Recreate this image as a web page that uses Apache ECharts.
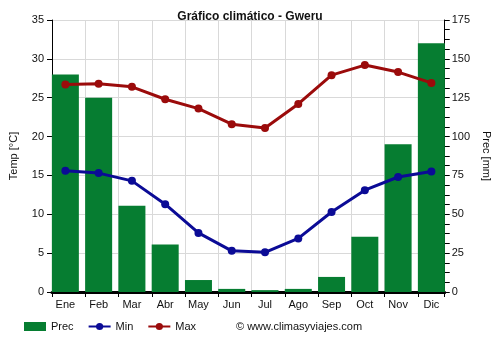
<!DOCTYPE html>
<html><head><meta charset="utf-8">
<script src="https://cdn.jsdelivr.net/npm/echarts@6/dist/echarts.min.js"></script>
<style>html,body{margin:0;padding:0;background:#fff}#c{width:500px;height:350px}</style>
</head><body><div id="c"></div>
<script>
const categories = ['Ene','Feb','Mar','Abr','May','Jun','Jul','Ago','Sep','Oct','Nov','Dic'];
const prec = [140, 125, 55.5, 30.5, 7.7, 2, 1.2, 2, 9.7, 35.5, 95, 160];
const tmin = [15.6, 15.3, 14.3, 11.3, 7.6, 5.3, 5.1, 6.9, 10.3, 13.1, 14.8, 15.5];
const tmax = [26.7, 26.8, 26.4, 24.8, 23.6, 21.6, 21.1, 24.2, 27.9, 29.2, 28.3, 26.9];
const title = 'Gráfico climático - Gweru';
const credit = '© www.climasyviajes.com';

const font = 'Liberation Sans, Arial, sans-serif';
const pad = 0.4018; // half a bar in category units
const n = categories.length;
const pairs = arr => arr.map((v, i) => [i, v]);

const chart = echarts.init(document.getElementById('c'), null, {renderer:'canvas'});
chart.setOption({
  animation: false,
  textStyle: {fontFamily: font},
  title: {text: title, left: 'center', top: 11, padding: 0,
    textStyle: {fontSize: 12, fontWeight: 'bold', color: '#111', fontFamily: font}},
  grid: {left: 49, right: 54, top: 20, bottom: 58, containLabel: false},
  legend: {
    left: 24, top: 321, padding: 0, itemGap: 14, itemWidth: 22, itemHeight: 9,
    textStyle: {fontSize: 11, color: '#111', fontFamily: font},
    data: [
      {name: 'Prec', icon: 'rect'},
      {name: 'Min'},
      {name: 'Max'}
    ]
  },
  graphic: [{type: 'text', left: 236, top: 321,
    style: {text: credit, fontSize: 11, fill: '#111', fontFamily: font}}],
  xAxis: [
    {type: 'value', min: -pad, max: n - 1 + pad, splitNumber: 12, minInterval: 1, maxInterval: 1,
     position: 'bottom',
     axisLine: {show: true, onZero: false, lineStyle: {color: '#000', width: 3}},
     axisTick: {show: false},
     axisLabel: {fontSize: 11, color: '#111', margin: 7, showMinLabel: true, showMaxLabel: true,
       formatter: v => (Math.abs(v - Math.round(v)) < 1e-6 && categories[Math.round(v)]) || ''},
     splitLine: {show: false}},
    {type: 'value', min: 0, max: n - 1 + 2 * pad, interval: 1, position: 'bottom',
     axisLine: {show: false, onZero: false},
     axisTick: {show: true, length: 5, lineStyle: {color: '#000'}},
     axisLabel: {show: false},
     splitLine: {show: true, lineStyle: {color: '#d9d9d9'}}}
  ],
  yAxis: [
    {type: 'value', min: 0, max: 35, interval: 5, position: 'left',
     name: 'Temp [°C]', nameLocation: 'middle', nameRotate: 90, nameGap: 33,
     nameTextStyle: {fontSize: 11, color: '#111'},
     axisLine: {show: true, onZero: false, lineStyle: {color: '#000'}},
     axisTick: {show: true, length: 5, lineStyle: {color: '#000'}},
     axisLabel: {fontSize: 11, color: '#111', margin: 8},
     splitLine: {show: true, lineStyle: {color: '#d9d9d9'}}},
    {type: 'value', min: 0, max: 175, interval: 25, position: 'right',
     name: 'Prec [mm]', nameLocation: 'middle', nameRotate: -90, nameGap: 36,
     nameTextStyle: {fontSize: 11, color: '#111'},
     axisLine: {show: true, onZero: false, lineStyle: {color: '#000'}},
     axisTick: {show: true, length: 5, lineStyle: {color: '#000'}},
     minorTick: {show: true, splitNumber: 4, length: 5, lineStyle: {color: '#000'}},
     axisLabel: {fontSize: 11, color: '#111', margin: 7},
     splitLine: {show: false}}
  ],
  series: [
    {name: 'Prec', type: 'bar', xAxisIndex: 0, yAxisIndex: 1, data: pairs(prec), barWidth: 27,
     itemStyle: {color: '#067d31'}},
    {name: 'Min', type: 'line', xAxisIndex: 0, yAxisIndex: 0, data: pairs(tmin), symbol: 'circle', symbolSize: 8,
     lineStyle: {color: '#0b0b96', width: 3}, itemStyle: {color: '#0b0b96'}, z: 5},
    {name: 'Max', type: 'line', xAxisIndex: 0, yAxisIndex: 0, data: pairs(tmax), symbol: 'circle', symbolSize: 8,
     lineStyle: {color: '#9b0b0b', width: 3}, itemStyle: {color: '#9b0b0b'}, z: 5}
  ]
});
</script></body></html>
